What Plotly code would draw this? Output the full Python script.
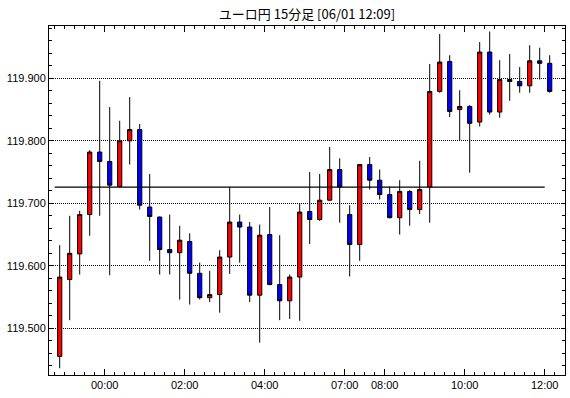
import plotly.graph_objects as go

title_text = "ユーロ円 15分足 [06/01 12:09]"

times = [
    "22:45", "23:00", "23:15", "23:30", "23:45",
    "00:00", "00:15", "00:30", "00:45", "01:00", "01:15", "01:30", "01:45",
    "02:00", "02:15", "02:30", "02:45", "03:00", "03:15", "03:30", "03:45",
    "04:00", "04:15", "04:30", "04:45", "05:00", "05:15", "05:30", "05:45",
    "07:00", "07:15", "07:30", "07:45",
    "08:00", "08:15", "08:30", "08:45", "09:00", "09:15", "09:30", "09:45",
    "10:00", "10:15", "10:30", "10:45", "11:00", "11:15", "11:30", "11:45",
    "12:00",
]

opens = [
    119.455, 119.578, 119.619, 119.682, 119.782, 119.767, 119.727, 119.800, 119.818, 119.694,
    119.678, 119.626, 119.621, 119.639, 119.588, 119.549, 119.554, 119.614, 119.670, 119.662,
    119.553, 119.650, 119.570, 119.544, 119.582, 119.687, 119.674, 119.705, 119.754, 119.682,
    119.634, 119.762, 119.737, 119.714, 119.677, 119.719, 119.690, 119.726, 119.879, 119.927,
    119.850, 119.855, 119.830, 119.942, 119.846, 119.898, 119.895, 119.888, 119.928, 119.924,
]
highs = [
    119.633, 119.680, 119.688, 119.785, 119.896, 119.854, 119.832, 119.870, 119.827, 119.747,
    119.679, 119.682, 119.664, 119.652, 119.605, 119.592, 119.625, 119.726, 119.682, 119.670,
    119.666, 119.694, 119.649, 119.586, 119.700, 119.750, 119.747, 119.790, 119.772, 119.697,
    119.763, 119.774, 119.754, 119.727, 119.737, 119.721, 119.768, 119.923, 119.971, 119.937,
    119.881, 119.857, 119.958, 119.975, 119.929, 119.939, 119.918, 119.953, 119.949, 119.937,
]
lows = [
    119.436, 119.513, 119.586, 119.648, 119.680, 119.585, 119.726, 119.762, 119.690, 119.608,
    119.586, 119.586, 119.546, 119.538, 119.546, 119.542, 119.525, 119.587, 119.605, 119.542,
    119.477, 119.569, 119.513, 119.515, 119.512, 119.635, 119.672, 119.704, 119.669, 119.583,
    119.608, 119.722, 119.706, 119.676, 119.650, 119.664, 119.683, 119.669, 119.877, 119.838,
    119.801, 119.749, 119.823, 119.842, 119.837, 119.864, 119.877, 119.877, 119.898, 119.877,
]
closes = [
    119.582, 119.620, 119.682, 119.782, 119.767, 119.729, 119.800, 119.818, 119.697, 119.679,
    119.626, 119.621, 119.641, 119.588, 119.549, 119.554, 119.614, 119.670, 119.662, 119.553,
    119.649, 119.570, 119.544, 119.582, 119.686, 119.674, 119.705, 119.754, 119.726, 119.634,
    119.762, 119.737, 119.714, 119.677, 119.719, 119.690, 119.722, 119.879, 119.926, 119.847,
    119.855, 119.828, 119.942, 119.846, 119.898, 119.895, 119.888, 119.928, 119.924, 119.879,
]

ref_level = 119.726
tick_labels = ["00:00", "02:00", "04:00", "07:00", "08:00", "10:00", "12:00"]
y_ticks = [119.5, 119.6, 119.7, 119.8, 119.9]

x_idx = list(range(len(times)))

fig = go.Figure()
fig.add_trace(go.Candlestick(
    x=x_idx, open=opens, high=highs, low=lows, close=closes,
    increasing=dict(fillcolor="#ff0000", line=dict(color="black", width=1)),
    decreasing=dict(fillcolor="#0000ff", line=dict(color="black", width=1)),
    whiskerwidth=0,
    showlegend=False,
    hoverinfo="skip",
))

fig.add_shape(type="line", xref="x", yref="y",
              x0=-0.5, x1=times.index("12:00") - 0.5, y0=ref_level, y1=ref_level,
              line=dict(color="black", width=1.2), layer="above")

tickvals = [times.index(t) - 0.5 for t in tick_labels]

fig.update_layout(
    width=570, height=398,
    margin=dict(l=49, r=5, t=26, b=23),
    paper_bgcolor="white", plot_bgcolor="white",
    boxgap=0.4,
    title=dict(text=title_text, x=0.5, xref="paper", xanchor="center",
               y=1 - 14 / 398, yref="container", yanchor="middle",
               font=dict(family="Noto Sans CJK JP", size=13, color="black")),
    font=dict(family="Liberation Sans", size=11, color="black"),
    xaxis=dict(
        range=[-1.07, 50.53], rangeslider=dict(visible=False),
        tickmode="array", tickvals=tickvals, ticktext=tick_labels,
        ticks="inside", ticklen=6, tickcolor="black", tickwidth=1,
        minor=dict(ticks="inside", dtick=1, tick0=0.5, ticklen=3,
                   tickcolor="black", tickwidth=1, showgrid=False),
        showline=True, linecolor="black", linewidth=1, mirror="allticks",
        showgrid=False, zeroline=False,
        tickfont=dict(family="Liberation Sans", size=11, color="black"),
    ),
    yaxis=dict(
        range=[119.4253, 119.9837], side="left",
        tickmode="array", tickvals=y_ticks, tickformat=".3f",
        ticks="inside", ticklen=4, tickcolor="black", tickwidth=1,
        minor=dict(ticks="inside", dtick=0.02, tick0=119.5, ticklen=3,
                   tickcolor="black", tickwidth=1, showgrid=False),
        showline=True, linecolor="black", linewidth=1, mirror="allticks",
        showgrid=True, gridcolor="black", gridwidth=1, griddash="1px,1px",
        zeroline=False,
        tickfont=dict(family="Liberation Sans", size=11, color="black"),
    ),
)

fig.write_html("out.html")
